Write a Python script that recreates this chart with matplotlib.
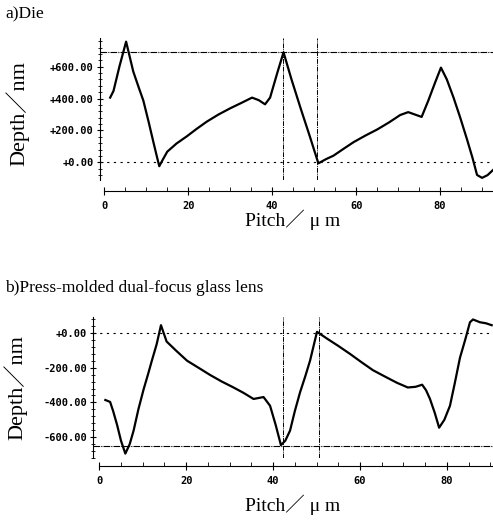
import matplotlib.pyplot as plt
import numpy as np
from matplotlib.ticker import MultipleLocator, FuncFormatter

# a) die profile
xa = [1.4, 2.2, 3.6, 5.2, 6.9, 8.2, 9.3, 10.6, 11.7, 12.5, 13.1, 14.0, 15.0, 17.2, 19.7,
      22.0, 24.4, 27.2, 30.0, 32.6, 35.2, 36.8, 38.3, 39.5, 41.2, 42.7, 44.6, 46.7, 49.0,
      51.0, 52.8, 54.6, 57.0, 59.4, 62.2, 65.0, 67.8, 70.5, 72.4, 74.0, 75.6, 77.2, 78.8,
      80.2, 81.6, 83.2, 84.8, 86.4, 87.7, 88.8, 90.0, 91.3, 92.6]
ya = [406, 448, 600, 757, 570, 470, 388, 250, 127, 40, -24, 20, 67, 118, 164,
      210, 255, 300, 339, 372, 406, 390, 364, 406, 560, 690, 520, 345, 160,
      -6, 20, 42, 85, 127, 168, 206, 250, 297, 315, 300, 285, 388, 500,
      594, 520, 406, 280, 145, 30, -79, -97, -80, -48]

# b) lens profile
xb = [1.4, 2.5, 3.2, 4.1, 5.0, 6.0, 7.0, 7.9, 9.0, 10.2, 11.2, 12.1, 13.2, 14.2, 15.5,
      17.8, 20.2, 22.8, 25.5, 28.2, 30.9, 33.2, 35.5, 37.8, 39.3, 40.6, 41.8, 42.8, 43.9,
      45.0, 46.2, 47.4, 48.5, 50.1, 52.4, 55.0, 57.7, 60.3, 63.0, 65.8, 68.5, 71.0, 72.8,
      74.3, 75.2, 76.1, 77.2, 78.2, 79.4, 80.7, 81.8, 83.0, 84.2, 85.3, 86.0, 87.6, 89.0, 90.3]
yb = [-386, -397, -450, -529, -620, -694, -640, -562, -440, -325, -240, -160, -66, 44, -50,
      -105, -160, -200, -242, -280, -314, -345, -380, -369, -419, -530, -645, -620, -562,
      -450, -342, -250, -160, 6, -33, -75, -121, -168, -215, -252, -287, -314, -310,
      -298, -330, -380, -460, -545, -500, -419, -290, -143, -40, 61, 77, 61, 55, 44]

panels = [
    dict(x=xa, y=ya, title="a)Die", rect=[0.203, 0.654, 0.797, 0.273], ylim=(-110, 780),
         xlim=(-1.0, 92.6), yticks=[0, 200, 400, 600], hlines=[(690, (0, (6, 1, 1, 1))), (0, (0, (2, 4)))],
         vlines=[42.5, 50.7], offset=8, ylab=(-0.209, 0.47), xlab=(0.49, -0.28)),
    dict(x=xb, y=yb, title="b)Press-molded dual-focus glass lens", rect=[0.189, 0.119, 0.811, 0.271],
         ylim=(-720, 90), xlim=(-1.4, 90.6), yticks=[-600, -400, -200, 0],
         hlines=[(0, (0, (2, 4))), (-650, (0, (6, 1, 1, 1)))], vlines=[42.3, 50.6], offset=6,
         ylab=(-0.195, 0.5), xlab=(0.5, -0.333)),
]

fig = plt.figure(figsize=(4.93, 5.2), dpi=100)
serif = ['Liberation Serif', 'Noto Sans CJK JP']

for p in panels:
    ax = fig.add_axes(p['rect'])
    ax.plot(p['x'], p['y'], color='black', lw=1.6)
    for val, ls in p['hlines']:
        ax.axhline(val, color='black', lw=0.8, ls=ls)
    for v in p['vlines']:
        ax.axvline(v, color='black', lw=0.7, ls=(0, (5, 1, 1, 1)))
    ax.set_xlim(*p['xlim'])
    ax.set_ylim(*p['ylim'])
    ax.spines['top'].set_visible(False)
    ax.spines['right'].set_visible(False)
    ax.spines['bottom'].set_position(('outward', p['offset']))
    ax.spines['bottom'].set_bounds(0, p['xlim'][1])
    ax.set_xticks([0, 20, 40, 60, 80])
    ax.xaxis.set_minor_locator(MultipleLocator(5))
    ax.set_yticks(p['yticks'])
    ax.yaxis.set_minor_locator(MultipleLocator(40))
    ax.yaxis.set_major_formatter(FuncFormatter(lambda v, pos: ('+' if v >= 0 else '-') + '%.2f' % abs(v)))
    ax.tick_params(axis='both', labelsize=7.5, width=0.8)
    ax.tick_params(axis='y', which='major', direction='inout', length=5, pad=2)
    ax.tick_params(axis='y', which='minor', direction='inout', length=3, width=0.6)
    ax.tick_params(axis='x', which='major', direction='inout', length=6, pad=4)
    ax.tick_params(axis='x', which='minor', direction='in', length=3, width=0.6)
    for lab in ax.get_xticklabels() + ax.get_yticklabels():
        lab.set_fontfamily('DejaVu Sans Mono')
        lab.set_fontweight('bold')
    ax.set_ylabel("Depth／nm", family=serif, fontsize=16, va='center')
    ax.yaxis.set_label_coords(*p['ylab'])
    ax.set_xlabel("Pitch／ μ m", family=serif, fontsize=14, va='center')
    ax.xaxis.set_label_coords(*p['xlab'])

fig.text(0.01, 0.972, "a)Die", family=serif, fontsize=12.5, va='center')
fig.text(0.01, 0.446, "b)Press-molded dual-focus glass lens", family=serif, fontsize=12.5, va='center')

fig.savefig("out.png", dpi=100)
